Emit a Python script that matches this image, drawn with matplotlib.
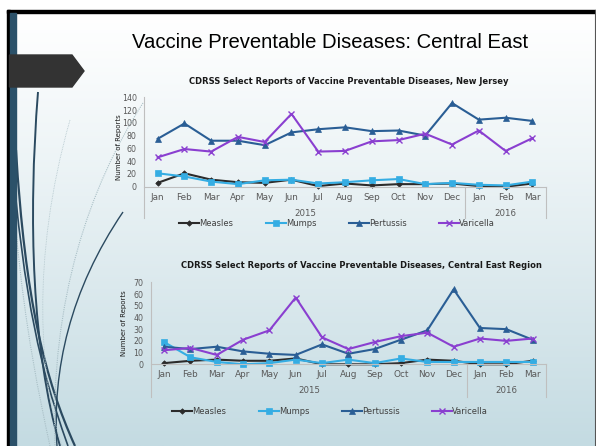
import numpy as np
import matplotlib
matplotlib.use('Agg')
import matplotlib.pyplot as plt
from matplotlib.path import Path
from matplotlib.patches import PathPatch, Polygon, Rectangle

# ---------------- data ----------------
months = ['Jan', 'Feb', 'Mar', 'Apr', 'May', 'Jun', 'Jul', 'Aug', 'Sep', 'Oct',
          'Nov', 'Dec', 'Jan', 'Feb', 'Mar']
years = ['2015', '2016']
year_counts = [12, 3]
series_names = ['Measles', 'Mumps', 'Pertussis', 'Varicella']

nj_measles = [6, 21, 11, 7, 6, 11, 1, 5, 2, 4, 4, 5, 1, 0, 5]
nj_mumps = [21, 16, 8, 4, 10, 11, 5, 7, 10, 12, 4, 6, 3, 2, 8]
nj_pertussis = [75, 99, 72, 72, 65, 85, 90, 93, 87, 88, 80, 131, 105, 108, 103]
nj_varicella = [46, 59, 55, 78, 70, 114, 55, 56, 71, 73, 83, 66, 88, 56, 76]

ce_measles = [1, 3, 4, 3, 3, 5, 0, 0, 0, 1, 4, 3, 0, 0, 3]
ce_mumps = [19, 6, 2, 0, 1, 4, 1, 4, 1, 5, 2, 2, 2, 2, 2]
ce_pertussis = [15, 13, 15, 11, 9, 8, 17, 9, 13, 21, 29, 64, 31, 30, 21]
ce_varicella = [12, 14, 8, 21, 29, 57, 23, 13, 19, 24, 27, 15, 22, 20, 22]

main_title = 'Vaccine Preventable Diseases: Central East'
title_nj = 'CDRSS Select Reports of Vaccine Preventable Diseases, New Jersey'
title_ce = 'CDRSS Select Reports of Vaccine Preventable Diseases, Central East Region'
ylabel = 'Number of Reports'

colors = ['#2b2b2b', '#35ADE3', '#2A5E95', '#8A3FD0']
markers = ['D', 's', '^', 'x']
msizes = [2.8, 4.5, 4.5, 4.5]

W, H = 596, 446
plt.rcParams['font.family'] = ['DejaVu Sans']

fig = plt.figure(figsize=(W / 100, H / 100), dpi=100)


def fx(x):
    return x / W


def fy(y):
    return 1 - y / H


# ---------------- background ----------------
bg = fig.add_axes([0, 0, 1, 1], zorder=0)
bg.set_xlim(0, W)
bg.set_ylim(H, 0)
bg.axis('off')
top_c = np.array([1.0, 1.0, 1.0])
bot_c = np.array([196, 219, 226]) / 255
t = np.linspace(0, 1, 200)[:, None]
grad = (top_c[None, :] * (1 - t ** 1.1) + bot_c[None, :] * t ** 1.1)[:, None, :]
bg.imshow(grad, extent=[9, W, H, 12], aspect='auto', zorder=0)
bg.add_patch(Rectangle((0, 0), W, 9.5, color='white', zorder=1))
bg.add_patch(Rectangle((0, 0), 7, H, color='white', zorder=1))
bg.add_patch(Rectangle((7, 9.5), W - 7, 3, color='black', zorder=3))
bg.add_patch(Rectangle((7, 9.5), 2.5, H, color='black', zorder=3))
bg.add_patch(Rectangle((9.5, 12.5), 6.5, H, color='#2b5169', zorder=3))
bg.plot([595, 595], [9.5, H], color='#555555', lw=0.8, zorder=3)


# decorative curves
def bez(p0, c1, c2, p1, color, lw, ls='-', alpha=1.0):
    path = Path([p0, c1, c2, p1], [Path.MOVETO, Path.CURVE4, Path.CURVE4, Path.CURVE4])
    bg.add_patch(PathPatch(path, facecolor='none', edgecolor=color, lw=lw, ls=ls,
                           alpha=alpha, zorder=2))


bez((38, 92), (28, 220), (32, 350), (60, 446), '#2b4a60', 1.4)
bez((16, 150), (25, 300), (45, 380), (75, 446), '#2b4a60', 1.6)
bez((16, 200), (30, 340), (52, 400), (68, 446), '#2b4a60', 1.2)
bez((123, 212), (70, 290), (52, 370), (57, 446), '#2b4a60', 1.0)
bez((143, 103), (90, 185), (50, 300), (55, 446), '#a9bfc6', 0.8, ls=(0, (1, 1)))
bez((16, 230), (25, 330), (40, 400), (50, 446), '#a9bfc6', 0.8, ls=(0, (1, 1)))
bez((70, 120), (30, 260), (40, 380), (62, 446), '#b5c8ce', 0.6, ls=(0, (1, 1)))

# arrow shape
bg.add_patch(Polygon([(9.5, 55), (72, 55), (84, 71), (72, 87), (9.5, 87)],
                     closed=True, color='#333333', zorder=4))

# main title
fig.text(fx(330.5), fy(43), main_title, fontsize=14.6, ha='center', va='center',
         color='black', family=['Liberation Sans', 'DejaVu Sans'])


def draw_chart(left, right, top, zero, ymax, ystep, data, title, title_xy,
               ylab_xy, legend_xy, ext):
    ax = fig.add_axes([fx(left), fy(zero), (right - left) / W, (zero - top) / H], zorder=2)
    ax.set_facecolor('none')
    x = np.arange(len(months))
    for name, vals, c, m, ms in zip(series_names, data, colors, markers, msizes):
        ax.plot(x, vals, color=c, lw=1.5, marker=m, ms=ms, mew=1.0 if m == 'x' else 0.5,
                mec=c, mfc=c, label=name, clip_on=False)
    ax.set_xlim(-0.5, len(months) - 0.5)
    ax.set_ylim(0, ymax)
    ax.set_yticks(np.arange(0, ymax + 1, ystep))
    ax.tick_params(axis='y', length=0, labelsize=5.7, labelcolor='#595959', pad=5.5)
    ax.set_xticks([])
    for sp in ['top', 'right', 'left']:
        ax.spines[sp].set_visible(False)
    ax.spines['bottom'].set_color('#bfbfbf')
    ax.spines['bottom'].set_linewidth(0.8)
    h = zero - top
    tr = ax.get_xaxis_transform()
    ax.plot([-0.5, -0.5], [1, -ext / h], transform=tr, clip_on=False, color='#bfbfbf', lw=0.8)
    sep = year_counts[0] - 0.5
    ax.plot([sep, sep], [0, -ext / h], transform=tr, clip_on=False, color='#bfbfbf', lw=0.8)
    ax.plot([len(months) - 0.5] * 2, [0, -ext / h], transform=tr, clip_on=False,
            color='#bfbfbf', lw=0.8)
    for i, mth in enumerate(months):
        ax.annotate(mth, xy=(i, 0), xycoords=tr, xytext=(0, -10.5), textcoords='offset pixels',
                    ha='center', va='center', fontsize=6.4, color='#595959')
    start = 0
    for yr, n in zip(years, year_counts):
        ax.annotate(yr, xy=(start + (n - 1) / 2, 0), xycoords=tr, xytext=(0, -26.5),
                    textcoords='offset pixels', ha='center', va='center', fontsize=6.2,
                    color='#595959')
        start += n
    fig.text(fx(title_xy[0]), fy(title_xy[1]), title, fontsize=6, fontweight='bold',
             ha='center', va='center', color='#1a1a1a')
    fig.text(fx(ylab_xy[0]), fy(ylab_xy[1]), ylabel, fontsize=5, rotation=90,
             ha='center', va='center', color='#1a1a1a')
    ax.legend(loc='center', bbox_to_anchor=(fx(legend_xy[0]), fy(legend_xy[1])),
              bbox_transform=fig.transFigure, ncol=4, frameon=False, fontsize=6,
              handlelength=2.4, handletextpad=0.0, columnspacing=3.9, labelcolor='#404040')
    return ax


draw_chart(144.3, 545.7, 97.3, 186.7, 140, 20,
           [nj_measles, nj_mumps, nj_pertussis, nj_varicella],
           title_nj, (349, 81), (119, 147), (337, 223), 31)
draw_chart(151, 545.7, 282.3, 364.3, 70, 10,
           [ce_measles, ce_mumps, ce_pertussis, ce_varicella],
           title_ce, (361.7, 265), (124, 323), (330, 411), 33)

fig.savefig('out.png', dpi=100)
